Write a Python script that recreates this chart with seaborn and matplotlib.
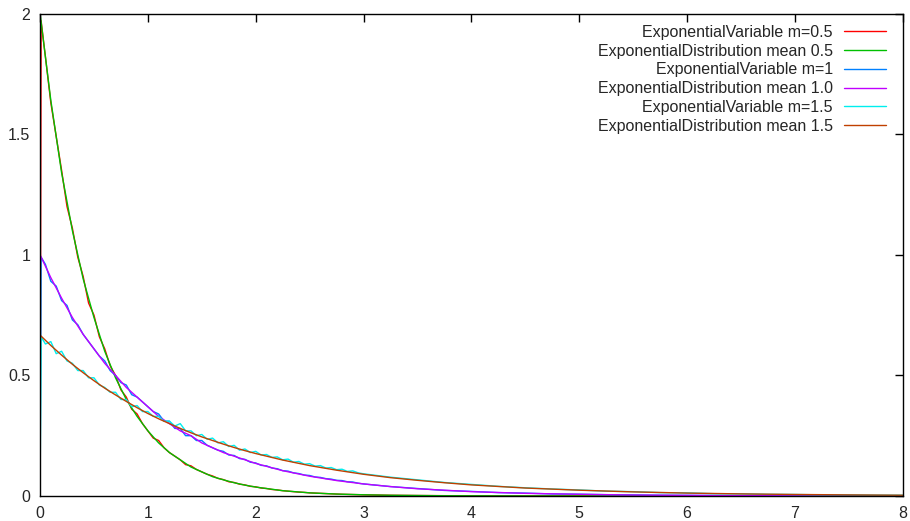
import numpy as np
import pandas as pd
import matplotlib
matplotlib.use("Agg")
import matplotlib.pyplot as plt
import seaborn as sns

x_dist = [0, 0.1, 0.2, 0.3, 0.4, 0.5, 0.6, 0.7, 0.8, 0.9, 1.0, 1.1, 1.2, 1.3, 1.4, 1.5,
          1.6, 1.7, 1.8, 1.9, 2.0, 2.25, 2.5, 2.75, 3.0, 3.25, 3.5, 3.75, 4.0, 4.5, 5.0,
          5.5, 6.0, 6.5, 7.0, 7.5, 8.0]
dist_05 = [2.00, 1.64, 1.34, 1.10, 0.90, 0.74, 0.60, 0.49, 0.40, 0.33, 0.27, 0.22, 0.18,
           0.15, 0.12, 0.10, 0.08, 0.067, 0.055, 0.045, 0.037, 0.022, 0.013, 0.008, 0.005,
           0.003, 0.002, 0.001, 0.0007, 0.0002, 0.0001, 0, 0, 0, 0, 0, 0]
dist_10 = [1.00, 0.905, 0.82, 0.74, 0.67, 0.61, 0.55, 0.50, 0.45, 0.41, 0.37, 0.33, 0.30,
           0.27, 0.25, 0.22, 0.20, 0.18, 0.165, 0.15, 0.135, 0.105, 0.082, 0.064, 0.050,
           0.039, 0.030, 0.024, 0.018, 0.011, 0.007, 0.004, 0.0025, 0.0015, 0.0009, 0.0006,
           0.0003]
dist_15 = [0.667, 0.624, 0.584, 0.546, 0.511, 0.478, 0.447, 0.419, 0.392, 0.366, 0.342,
           0.320, 0.300, 0.280, 0.262, 0.245, 0.230, 0.215, 0.201, 0.188, 0.176, 0.149,
           0.126, 0.107, 0.090, 0.076, 0.065, 0.055, 0.046, 0.033, 0.024, 0.017, 0.012,
           0.0087, 0.0063, 0.0045, 0.0032]

# sampled (noisy) histograms
x_var = np.round(np.concatenate([[0, 0.01], np.arange(0.05, 3.001, 0.05),
                                 np.arange(3.25, 8.001, 0.25)]), 3)
var_05 = [0, 1.97,
          1.82, 1.63, 1.49, 1.35, 1.20, 1.11, 0.99, 0.91, 0.80, 0.75,
          0.66, 0.61, 0.54, 0.50, 0.44, 0.41, 0.36, 0.34, 0.30, 0.27,
          0.24, 0.23, 0.20, 0.18, 0.165, 0.15, 0.13, 0.125, 0.11, 0.10,
          0.09, 0.083, 0.073, 0.068, 0.059, 0.056, 0.049, 0.046, 0.040, 0.038,
          0.033, 0.031, 0.027, 0.025, 0.022, 0.020, 0.018, 0.016, 0.015, 0.013,
          0.012, 0.011, 0.010, 0.009, 0.008, 0.007, 0.0065, 0.006, 0.0055, 0.005,
          0.003, 0.002, 0.0013, 0.0008, 0.0005, 0.0003, 0.0002, 0.0001, 0, 0,
          0, 0, 0, 0, 0, 0, 0, 0, 0, 0]
var_10 = [0, 0.99,
          0.96, 0.89, 0.87, 0.81, 0.79, 0.73, 0.71, 0.67, 0.64, 0.61,
          0.58, 0.56, 0.52, 0.50, 0.47, 0.46, 0.42, 0.41, 0.39, 0.37,
          0.35, 0.34, 0.31, 0.31, 0.28, 0.28, 0.25, 0.25, 0.23, 0.23,
          0.21, 0.20, 0.19, 0.185, 0.17, 0.168, 0.155, 0.152, 0.14, 0.137,
          0.127, 0.125, 0.116, 0.113, 0.105, 0.103, 0.096, 0.093, 0.087, 0.085,
          0.079, 0.077, 0.072, 0.070, 0.065, 0.064, 0.059, 0.058, 0.053, 0.050,
          0.039, 0.031, 0.023, 0.019, 0.014, 0.012, 0.0085, 0.0075, 0.0055, 0.0045,
          0.0032, 0.0028, 0.0019, 0.0016, 0.0012, 0.0010, 0.0007, 0.0006, 0.0004, 0.0003]
var_15 = [0, 0.66,
          0.63, 0.64, 0.59, 0.60, 0.56, 0.55, 0.52, 0.52, 0.49, 0.49,
          0.46, 0.45, 0.43, 0.43, 0.40, 0.40, 0.37, 0.375, 0.35, 0.35,
          0.33, 0.33, 0.31, 0.31, 0.29, 0.30, 0.27, 0.27, 0.25, 0.255,
          0.235, 0.24, 0.22, 0.225, 0.205, 0.21, 0.19, 0.195, 0.18, 0.185,
          0.17, 0.172, 0.16, 0.162, 0.15, 0.153, 0.14, 0.143, 0.132, 0.134,
          0.124, 0.126, 0.116, 0.118, 0.109, 0.111, 0.102, 0.104, 0.096, 0.092,
          0.078, 0.067, 0.056, 0.048, 0.040, 0.034, 0.029, 0.025, 0.020, 0.018,
          0.014, 0.013, 0.0095, 0.0088, 0.0068, 0.0062, 0.0048, 0.0044, 0.0034, 0.0032]

labels = ["ExponentialVariable m=0.5", "ExponentialDistribution mean 0.5",
          "ExponentialVariable m=1", "ExponentialDistribution mean 1.0",
          "ExponentialVariable m=1.5", "ExponentialDistribution mean 1.5"]
colors = ["#ff0000", "#00c000", "#0080ff", "#c000ff", "#00eeee", "#c04000"]

sns.set_style("white")
plt.rcParams['font.family'] = ['Liberation Sans', 'DejaVu Sans']

fig = plt.figure(figsize=(9.10, 5.21), dpi=100)
ax = fig.add_axes([0.044, 0.048, 0.948, 0.926])

series = [(x_var, var_05), (x_dist, dist_05), (x_var, var_10), (x_dist, dist_10),
          (x_var, var_15), (x_dist, dist_15)]
for (xs, ys), lab, c in zip(series, labels, colors):
    df = pd.DataFrame({'x': xs, 'y': ys})
    sns.lineplot(data=df, x='x', y='y', ax=ax, color=c, lw=1.0, label=lab,
                 estimator=None, sort=False)

ax.set_xlim(0, 8)
ax.set_ylim(0, 2)
ax.set_xticks(range(0, 9))
ax.set_yticks([0, 0.5, 1, 1.5, 2])
ax.yaxis.set_major_formatter(plt.FuncFormatter(lambda v, p: '%g' % v))
ax.set_xlabel('')
ax.set_ylabel('')
ax.tick_params(direction='in', length=6, width=1, color='black', labelsize=11.5,
               top=True, right=True, pad=7)
for s in ax.spines.values():
    s.set_color('black')
    s.set_linewidth(1.0)

leg = ax.legend(loc='upper right', markerfirst=False, frameon=False, fontsize=11.5,
                handlelength=2.6, handletextpad=0.7, labelspacing=0.24,
                borderaxespad=0.3, bbox_to_anchor=(0.993, 1.0))

fig.savefig('out.png', dpi=100)
